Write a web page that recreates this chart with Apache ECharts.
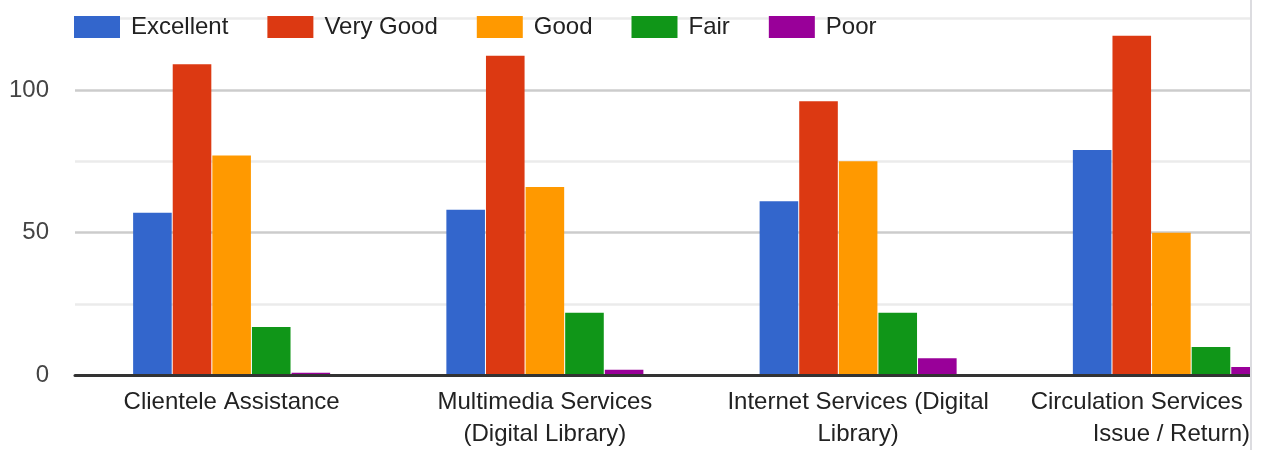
<!DOCTYPE html>
<html>
<head>
<meta charset="utf-8">
<script src="https://cdn.jsdelivr.net/npm/echarts@6/dist/echarts.min.js"></script>
<style>
  html, body { margin: 0; padding: 0; background: #fff; }
  #chart { width: 1261px; height: 450px; }
</style>
</head>
<body>
<div id="chart"></div>
<script>
const categories = [
  'Clientele Assistance',
  'Multimedia Services\n(Digital Library)',
  'Internet Services (Digital\nLibrary)',
  'Circulation Services (Book\nIssue / Return)'
];
const seriesNames = ['Excellent', 'Very Good', 'Good', 'Fair', 'Poor'];
const excellent = [57, 58, 61, 79];
const veryGood = [109, 112, 96, 119];
const good = [77, 66, 75, 50];
const fair = [17, 22, 22, 10];
const poor = [1, 2, 6, 3];
const yTicks = [0, 50, 100];

const colors = ['#3366cc', '#dc3912', '#ff9900', '#109618', '#990099'];
const values = [excellent, veryGood, good, fair, poor];
const FONT = 'Arial, "Liberation Sans", sans-serif';

const chart = echarts.init(document.getElementById('chart'), null, { renderer: 'canvas' });
chart.setOption({
  animation: false,
  color: colors,
  textStyle: { fontFamily: FONT },
  legend: {
    left: 74,
    top: 15,
    padding: 0,
    icon: 'rect',
    itemWidth: 46,
    itemHeight: 22,
    itemGap: 39,
    textStyle: { fontSize: 24, color: '#222', fontFamily: FONT, padding: [0, 0, 0, 6] },
    data: seriesNames
  },
  grid: { left: 75, width: 1253, top: 18.5, bottom: 74.5, containLabel: false, outerBoundsMode: 'none' },
  xAxis: {
    type: 'category',
    data: categories,
    axisTick: { show: false },
    axisLine: { show: true, lineStyle: { color: '#333', width: 3 } },
    axisLabel: {
      interval: 0,
      margin: 11,
      fontSize: 24,
      lineHeight: 32,
      color: '#222',
      fontFamily: FONT,
      hideOverlap: false
    },
    z: 5
  },
  yAxis: {
    type: 'value',
    min: 0,
    max: 125,
    interval: 25,
    axisLine: { show: false },
    axisTick: { show: false },
    axisLabel: {
      margin: 26,
      fontSize: 24,
      color: '#444',
      fontFamily: FONT,
      formatter: v => (yTicks.indexOf(v) >= 0 ? String(v) : '')
    },
    splitLine: { lineStyle: { color: ['#cccccc', '#ebebeb'], width: 2.5 } }
  },
  series: seriesNames.map((name, i) => ({
    name: name,
    type: 'bar',
    data: values[i],
    barWidth: 38.6,
    barGap: '2.6%',
    itemStyle: { color: colors[i] }
  })),
  graphic: [
    { type: 'rect', z: 100, shape: { x: 1250, y: 0, width: 20, height: 450 }, style: { fill: '#ffffff' } },
    { type: 'rect', z: 101, shape: { x: 1250, y: 0, width: 2, height: 450 }, style: { fill: '#dcdce0' } }
  ]
});
</script>
</body>
</html>
